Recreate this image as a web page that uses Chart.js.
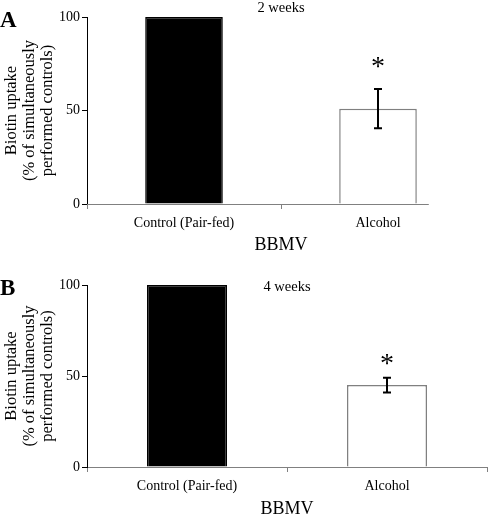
<!DOCTYPE html>
<html>
<head>
<meta charset="utf-8">
<script src="https://cdn.jsdelivr.net/npm/chart.js@4"></script>
<style>
  body { margin: 0; background: #fff; }
  canvas { position: absolute; left: 0; }
</style>
</head>
<body>
<canvas id="chartA" width="492" height="258" style="top:0"></canvas>
<canvas id="chartB" width="492" height="258" style="top:258px"></canvas>
<script>
var categories = ['Control (Pair-fed)', 'Alcohol'];
var uptake2wk = [100, 51];
var sem2wk = [0, 10.5];
var uptake4wk = [100, 45];
var sem4wk = [0, 4];
var significant = [false, true];
var yTicks = [0, 50, 100];
var yTitle = ['Biotin uptake', '(% of simultaneously', 'performed controls)'];

var serif = "'Liberation Serif', 'Times New Roman', serif";

// error bars, asterisks, panel letter and subtitle
var annotations = {
    id: 'annotations',
    beforeDatasetsDraw: function (chart, args, opts) {
        if (!opts.shortBaseline) return;
        var ctx = chart.ctx, area = chart.chartArea;
        var last = chart.getDatasetMeta(0).data[1];
        ctx.save();
        ctx.strokeStyle = '#808080';
        ctx.lineWidth = 1;
        ctx.beginPath();
        ctx.moveTo(area.left, area.bottom + 0.5);
        ctx.lineTo(last.x + last.width / 2 + 12, area.bottom + 0.5);
        ctx.stroke();
        ctx.restore();
    },
    afterDatasetsDraw: function (chart, args, opts) {
        var ctx = chart.ctx;
        var y = chart.scales.y;
        var meta = chart.getDatasetMeta(0);
        ctx.save();
        ctx.strokeStyle = '#000';
        ctx.fillStyle = '#000';
        ctx.lineWidth = 2;
        opts.values.forEach(function (v, i) {
            var err = opts.errors[i];
            var cx = Math.round(meta.data[i].x);
            var top = y.getPixelForValue(v + err);
            if (err > 0) {
                var bot = y.getPixelForValue(v - err);
                ctx.beginPath();
                ctx.moveTo(cx, top); ctx.lineTo(cx, bot);
                ctx.moveTo(cx - 4, top); ctx.lineTo(cx + 4, top);
                ctx.moveTo(cx - 4, bot); ctx.lineTo(cx + 4, bot);
                ctx.stroke();
            }
            if (significant[i]) {
                ctx.font = '28px ' + serif;
                ctx.textAlign = 'center';
                ctx.textBaseline = 'alphabetic';
                ctx.fillText('*', cx, top - opts.starGap);
            }
        });
        ctx.textAlign = 'left';
        ctx.font = 'bold 23px ' + serif;
        ctx.fillText(opts.letter, 0, opts.letterY);
        ctx.textAlign = 'center';
        ctx.font = '14.5px ' + serif;
        var area = chart.chartArea;
        ctx.fillText(opts.subtitle, (area.left + area.right) / 2, opts.subtitleY);
        ctx.restore();
    }
};

function makePanel(id, values, errors, panel) {
    return new Chart(id, {
        type: 'bar',
        data: {
            labels: categories,
            datasets: [{
                data: values,
                backgroundColor: ['#000', '#fff'],
                borderColor: ['#000', '#808080'],
                borderWidth: 1.5,
                barPercentage: 0.4,
                categoryPercentage: 1
            }]
        },
        options: {
            responsive: false,
            animation: false,
            devicePixelRatio: 1,
            layout: { padding: panel.padding },
            plugins: {
                legend: { display: false },
                tooltip: { enabled: false },
                annotations: {
                    values: values,
                    errors: errors,
                    starGap: panel.starGap,
                    letter: panel.letter,
                    letterY: panel.letterY,
                    subtitle: panel.subtitle,
                    subtitleY: panel.subtitleY,
                    shortBaseline: panel.shortBaseline
                }
            },
            scales: {
                x: {
                    offset: true,
                    afterFit: function (s) { s.height = panel.xHeight; },
                    border: { display: !panel.shortBaseline, color: '#808080', width: 1 },
                    grid: {
                        offset: true,
                        drawOnChartArea: false,
                        tickLength: 5,
                        color: function (c) {
                            if (c.type !== 'tick' && panel.shortBaseline) return 'rgba(0,0,0,0)';
                            return '#808080';
                        }
                    },
                    ticks: { color: '#000', padding: 6, font: { family: serif, size: 14 } },
                    title: {
                        display: true,
                        text: 'BBMV',
                        color: '#000',
                        font: { family: serif, size: 18, lineHeight: '14px' },
                        padding: { top: 0, bottom: panel.bbmvPad }
                    }
                },
                y: {
                    min: 0,
                    max: 100,
                    afterBuildTicks: function (s) {
                        s.ticks = yTicks.map(function (v) { return { value: v }; });
                    },
                    afterFit: function (s) { s.width = 87; },
                    border: { color: '#000', width: 1 },
                    grid: { drawOnChartArea: false, tickLength: 5, color: '#000' },
                    ticks: { color: '#000', padding: 2, font: { family: serif, size: 14 } },
                    title: {
                        display: true,
                        text: yTitle,
                        color: '#000',
                        font: { family: serif, size: 16.5, lineHeight: '18px' },
                        padding: { top: 3, bottom: 0 }
                    }
                }
            }
        },
        plugins: [annotations]
    });
}

makePanel('chartA', uptake2wk, sem2wk, {
    padding: { top: 17, right: 17, left: 0, bottom: 0 },
    xHeight: 54,
    bbmvPad: 6,
    starGap: 14,
    letter: 'A',
    letterY: 27,
    subtitle: '2 weeks',
    subtitleY: 12,
    shortBaseline: true
});

makePanel('chartB', uptake4wk, sem4wk, {
    padding: { top: 27, right: 5, left: 0, bottom: 0 },
    xHeight: 49,
    bbmvPad: 0,
    starGap: 6,
    letter: 'B',
    letterY: 37,
    subtitle: '4 weeks',
    subtitleY: 33,
    shortBaseline: false
});
</script>
</body>
</html>
